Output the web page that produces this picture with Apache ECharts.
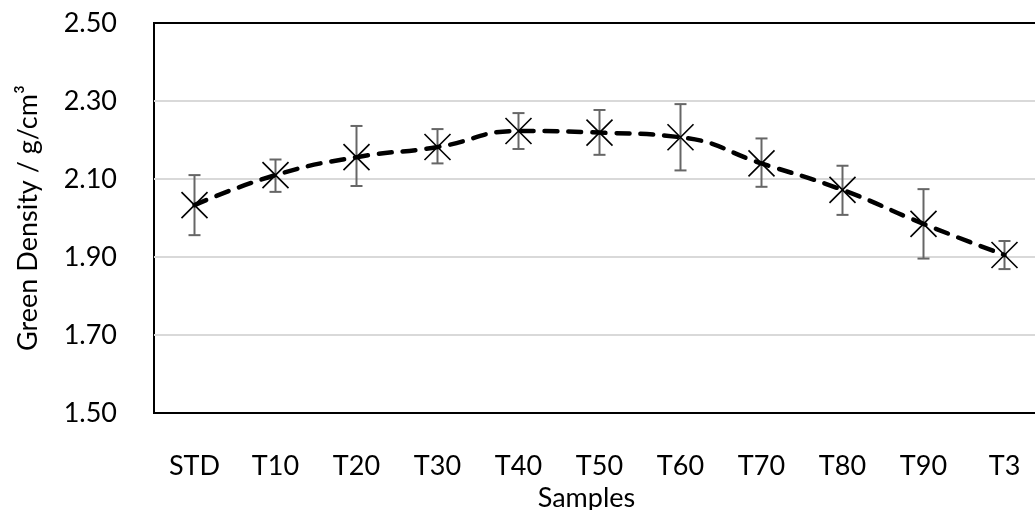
<!DOCTYPE html>
<html>
<head>
<meta charset="utf-8">
<script src="https://cdn.jsdelivr.net/npm/echarts@6/dist/echarts.min.js"></script>
<style>html,body{margin:0;padding:0;background:#fff}#chart{width:1035px;height:510px}</style>
</head>
<body>
<div id="chart"></div>
<script>
var samples = ['STD', 'T10', 'T20', 'T30', 'T40', 'T50', 'T60', 'T70', 'T80', 'T90', 'T3'];
var density = [2.033, 2.110, 2.156, 2.182, 2.223, 2.219, 2.207, 2.140, 2.072, 1.985, 1.905];
var errLow  = [1.956, 2.067, 2.082, 2.140, 2.177, 2.162, 2.122, 2.080, 2.008, 1.896, 1.869];
var errHigh = [2.110, 2.150, 2.236, 2.228, 2.269, 2.277, 2.292, 2.204, 2.134, 2.074, 1.941];
var yTicks = { min: 1.5, max: 2.5, step: 0.2 };

var myChart = echarts.init(document.getElementById('chart'));

var errData = samples.map(function (s, i) { return [i, errLow[i], errHigh[i]]; });
var font = 'Lato';

myChart.setOption({
	animation: false,
	grid: {
		left: 154,
		top: 23,
		bottom: 97,
		width: 891,
		outerBoundsMode: 'none',
		containLabel: false,
		show: true,
		borderColor: '#000',
		borderWidth: 2
	},
	xAxis: {
		type: 'category',
		data: samples,
		boundaryGap: true,
		axisLine: { show: false },
		axisTick: { show: false },
		axisLabel: { margin: 40, fontFamily: font, fontSize: 27, color: '#000' },
		name: 'Samples',
		nameLocation: 'middle',
		nameGap: 71,
		nameTextStyle: { fontFamily: font, fontSize: 27, color: '#000', padding: [0, 26, 0, 0] }
	},
	yAxis: {
		type: 'value',
		min: yTicks.min,
		max: yTicks.max,
		interval: yTicks.step,
		axisLine: { show: false },
		axisTick: { show: false },
		axisLabel: {
			margin: 37, fontFamily: font, fontSize: 27, color: '#000',
			formatter: function (v) { return v.toFixed(2); }
		},
		splitLine: { showMinLine: false, showMaxLine: false, lineStyle: { color: '#d9d9d9', width: 2 } },
		name: 'Green Density / g/cm³',
		nameLocation: 'middle',
		nameGap: 112,
		nameTextStyle: { fontFamily: font, fontSize: 27, color: '#000' }
	},
	series: [{
		// error bars
		type: 'custom',
		data: errData,
		z: 2,
		renderItem: function (params, api) {
			var x = api.coord([api.value(0), api.value(1)])[0];
			var lo = api.coord([api.value(0), api.value(1)])[1];
			var hi = api.coord([api.value(0), api.value(2)])[1];
			var st = { stroke: '#666', lineWidth: 2 };
			return {
				type: 'group',
				children: [
					{ type: 'line', shape: { x1: x, y1: lo, x2: x, y2: hi }, style: st },
					{ type: 'line', shape: { x1: x - 6, y1: lo, x2: x + 6, y2: lo }, style: st },
					{ type: 'line', shape: { x1: x - 6, y1: hi, x2: x + 6, y2: hi }, style: st }
				]
			};
		}
	}, {
		type: 'line',
		data: density,
		smooth: true,
		z: 3,
		symbol: 'path://M0,0L10,10M10,0L0,10',
		symbolSize: 26,
		itemStyle: { color: 'transparent', borderColor: '#000', borderWidth: 1.6 },
		lineStyle: { color: '#000', width: 4.5, type: [13, 11], cap: 'round' }
	}]
});
</script>
</body>
</html>
